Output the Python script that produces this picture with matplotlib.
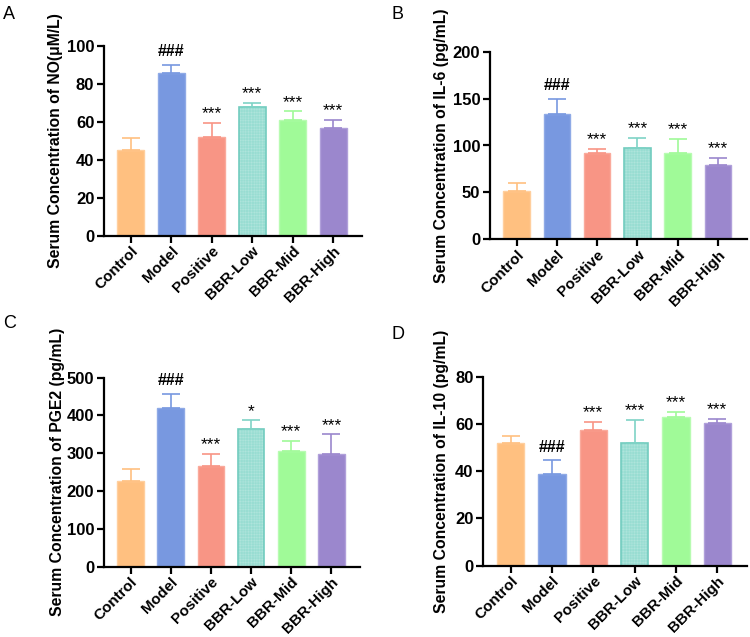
import matplotlib
matplotlib.use("Agg")
import matplotlib.pyplot as plt

plt.rcParams['font.family'] = ['Liberation Sans', 'DejaVu Sans']
plt.rcParams['hatch.linewidth'] = 0.3

groups = ['Control', 'Model', 'Positive', 'BBR-Low', 'BBR-Mid', 'BBR-High']

no_mean = [45.2, 85.9, 52.1, 67.6, 61.1, 56.7]
no_err = [6.2, 4.2, 7.4, 2.6, 4.6, 4.4]
no_sig = ['', '###', '***', '***', '***', '***']

il6_mean = [51.8, 133.7, 91.8, 97.2, 92.2, 78.7]
il6_err = [8.5, 16.3, 5.0, 11.3, 15.2, 8.5]
il6_sig = ['', '###', '***', '***', '***', '***']

pge2_mean = [228, 421, 267, 364, 306, 299]
pge2_err = [30, 37, 32, 24, 27, 52]
pge2_sig = ['', '###', '***', '*', '***', '***']

il10_mean = [52.1, 39.0, 57.6, 52.1, 62.8, 60.6]
il10_err = [2.9, 5.7, 3.4, 9.6, 2.4, 1.5]
il10_sig = ['', '###', '***', '***', '***', '***']

face_colors = ['#FFC080', '#7898E0', '#F89585', '#98DDD2', '#A0FA98', '#9B87CD']
edge_colors = ['#FFCF9E', '#8FAAE6', '#FAAA9C', '#72CCBF', '#B8FBB2', '#B0A0DA']
err_colors = ['#FFC080', '#7898E0', '#F89585', '#7FD3C6', '#A0FA98', '#9B87CD']

W, H = 750, 637
fig = plt.figure(figsize=(W / 100, H / 100), dpi=100)


def ax_rect(left, right, top, bottom):
    return [left / W, 1 - bottom / H, (right - left) / W, (bottom - top) / H]


panels = [
    dict(rect=ax_rect(104, 362, 46, 235.7), mean=no_mean, err=no_err, sig=no_sig,
         ylim=100, yticks=[0, 20, 40, 60, 80, 100],
         ylabel='Serum Concentration of NO(μM/L)', letter='A', lpos=(3, 19), labx=41),
    dict(rect=ax_rect(490, 746.7, 51.7, 239.3), mean=il6_mean, err=il6_err, sig=il6_sig,
         ylim=200, yticks=[0, 50, 100, 150, 200],
         ylabel='Serum Concentration of IL-6 (pg/mL)', letter='B', lpos=(392, 19), labx=41),
    dict(rect=ax_rect(104, 360, 377.7, 566.7), mean=pge2_mean, err=pge2_err, sig=pge2_sig,
         ylim=500, yticks=[0, 100, 200, 300, 400, 500],
         ylabel='Serum Concentration of PGE2 (pg/mL)', letter='C', lpos=(3, 328), labx=39),
    dict(rect=ax_rect(483.3, 746.7, 376.7, 565.7), mean=il10_mean, err=il10_err, sig=il10_sig,
         ylim=80, yticks=[0, 20, 40, 60, 80],
         ylabel='Serum Concentration of IL-10 (pg/mL)', letter='D', lpos=(392, 339), labx=34),
]

x = list(range(len(groups)))

for p in panels:
    ax = fig.add_axes(p['rect'])
    for i in x:
        if groups[i] == 'BBR-Low':
            ax.bar(i, p['mean'][i], width=0.66, color=face_colors[i],
                   edgecolor='#B4E6DE', linewidth=0, hatch='++++++', zorder=2)
            ax.bar(i, p['mean'][i], width=0.66, fill=False,
                   edgecolor=edge_colors[i], linewidth=1.2, zorder=2)
        else:
            ax.bar(i, p['mean'][i], width=0.66, color=face_colors[i],
                   edgecolor=edge_colors[i], linewidth=1.0, zorder=2)
        ax.errorbar(i, p['mean'][i], yerr=[[0], [p['err'][i]]], fmt='none',
                    ecolor=err_colors[i], elinewidth=1.2, capsize=6.5,
                    capthick=1.2, zorder=3)
        if p['sig'][i]:
            top = p['mean'][i] + p['err'][i]
            if p['sig'][i].startswith('#'):
                ax.annotate(p['sig'][i], (i, top), xytext=(0, 4),
                            textcoords='offset points', ha='center', va='bottom',
                            fontsize=11.5, fontweight='bold', color='black')
            else:
                ax.annotate(p['sig'][i], (i, top), xytext=(0, 1),
                            textcoords='offset points', ha='center', va='bottom',
                            fontsize=12.5, color='black')
    ax.set_xlim(-0.66, 5.71)
    ax.set_ylim(0, p['ylim'])
    ax.set_yticks(p['yticks'])
    ax.set_xticks(x)
    ax.set_xticklabels(groups, rotation=45, ha='right', rotation_mode='anchor',
                       fontsize=11, fontweight='bold')
    for lab in ax.get_yticklabels():
        lab.set_fontweight('bold')
        lab.set_fontsize(12)
    ax.spines['top'].set_visible(False)
    ax.spines['right'].set_visible(False)
    ax.spines['left'].set_linewidth(1.6)
    ax.spines['bottom'].set_linewidth(1.6)
    ax.tick_params(axis='both', direction='out', length=5, width=1.6, pad=2)
    ax.tick_params(axis='x', pad=1)
    ax.set_ylabel(p['ylabel'], fontsize=11.3, fontweight='bold')
    axw = p['rect'][2] * W
    ax.yaxis.set_label_coords(-p['labx'] / axw, 0.5)
    fig.text(p['lpos'][0] / W, 1 - p['lpos'][1] / H, p['letter'],
             fontsize=13, ha='left', va='baseline')

fig.savefig('out.png', dpi=100)
